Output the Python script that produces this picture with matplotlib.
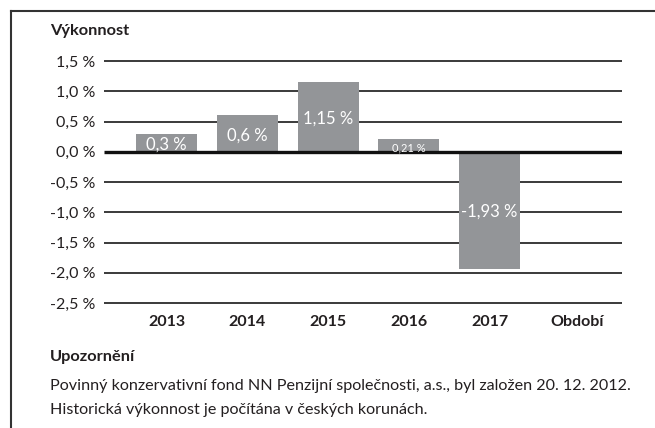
import matplotlib
matplotlib.use("Agg")
import matplotlib.pyplot as plt
from matplotlib.lines import Line2D

# data
years = ["2013", "2014", "2015", "2016", "2017"]
values = [0.30, 0.60, 1.15, 0.21, -1.93]
value_labels = ["0,3 %", "0,6 %", "1,15 %", "0,21 %", "-1,93 %"]
label_sizes = [12, 12, 12, 8, 12]
yticks = [1.5, 1.0, 0.5, 0.0, -0.5, -1.0, -1.5, -2.0, -2.5]
ytick_labels = ["1,5 %", "1,0 %", "0,5 %", "0,0 %", "-0,5 %", "-1,0 %", "-1,5 %", "-2,0 %", "-2,5 %"]

INK, BAR, GRID = "#231f20", "#939598", "#3a3a3a"
plt.rcParams["font.family"] = ["Lato", "DejaVu Sans"]

W, H = 655, 428
fig = plt.figure(figsize=(W / 100, H / 100), dpi=100)
fig.patch.set_facecolor("white")

# axes placed by pixel box of the reference
x0, x1, ytop, ybot = 104, 622, 61, 303
ax = fig.add_axes([x0 / W, 1 - ybot / H, (x1 - x0) / W, (ybot - ytop) / H])
XL = (-0.774, 5.64)
ax.set_xlim(*XL)
ax.set_ylim(-2.5, 1.5)
for s in ax.spines.values():
    s.set_visible(False)

# gridlines
for t in yticks:
    if t == 0:
        continue
    ax.hlines(t, *XL, color=GRID, lw=1.4, zorder=1, clip_on=False)

xs = list(range(len(years)))
ax.bar(xs, values, width=0.755, color=BAR, zorder=2)
ax.hlines(0, *XL, color="#111111", lw=2.4, zorder=3)

for x, v, lab, fs in zip(xs, values, value_labels, label_sizes):
    ax.text(x, v / 2 - (0.04 if fs < 10 else 0.03), lab, ha="center", va="center",
            color="white", fontsize=fs, zorder=4)

ax.set_yticks(yticks)
ax.set_yticklabels(ytick_labels, fontsize=11.5, color=INK)
ax.set_xticks(xs + [5.08])
ax.set_xticklabels(years + ["Období"], fontsize=11.5, fontweight="bold", color=INK)
ax.tick_params(axis="y", length=0, pad=6)
ax.tick_params(axis="x", length=0, pad=9)

# frame (left and top border)
fig.add_artist(Line2D([11 / W, 11 / W], [0, 1 - 11 / H], color="#333333", lw=1.5))
fig.add_artist(Line2D([11 / W, 1], [1 - 11 / H, 1 - 11 / H], color="#333333", lw=1.5))

# texts
fig.text(50 / W, 1 - 31 / H, "Výkonnost", fontsize=11.8, fontweight="bold", color=INK, va="center")
fig.text(50 / W, 1 - 357 / H, "Upozornění", fontsize=11.8, fontweight="bold", color=INK, va="center")
fig.text(50 / W, 1 - 386 / H,
         "Povinný konzervativní fond NN Penzijní společnosti, a.s., byl založen 20. 12. 2012.",
         fontsize=11.6, color=INK, va="center")
fig.text(50 / W, 1 - 410 / H, "Historická výkonnost je počítána v českých korunách.",
         fontsize=11.6, color=INK, va="center")

fig.savefig("out.png", dpi=100, facecolor="white")
